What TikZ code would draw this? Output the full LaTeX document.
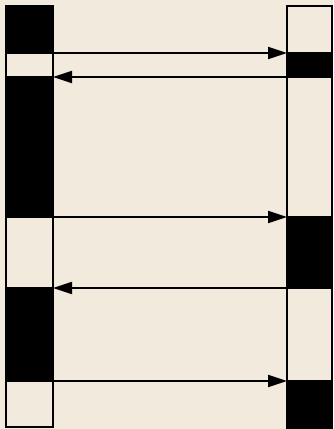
\documentclass[tikz,border=0pt]{standalone}
\usetikzlibrary{arrows.meta}
\definecolor{paper}{RGB}{242,234,220}
\tikzset{
  seg/.style={draw=black, line width=2pt, inner sep=0pt, outer sep=0pt, anchor=north west},
  idle/.style={seg, fill=paper},
  busy/.style={seg, fill=black},
  lcol/.style={minimum width=47pt},
  rcol/.style={minimum width=45pt},
  msg/.style={line width=2pt, -{Triangle[length=19pt,width=12pt]}}
}
\begin{document}
\begin{tikzpicture}[x=1pt,y=-1pt]
  \useasboundingbox[fill=paper] (0,0) rectangle (333,429);
  % left lifeline, top to bottom
  \node[busy, lcol, minimum height=47pt]  (LA) at (6,6)   {};
  \node[idle, lcol, minimum height=24pt]  (LB) at (6,53)  {};
  \node[busy, lcol, minimum height=140pt] (LC) at (6,77)  {};
  \node[idle, lcol, minimum height=71pt]  (LD) at (6,217) {};
  \node[busy, lcol, minimum height=93pt]  (LE) at (6,288) {};
  \node[idle, lcol, minimum height=46pt]  (LF) at (6,381) {};
  % right lifeline, top to bottom
  \node[idle, rcol, minimum height=47pt]  (RA) at (287,6)   {};
  \node[busy, rcol, minimum height=24pt]  (RB) at (287,53)  {};
  \node[idle, rcol, minimum height=140pt] (RC) at (287,77)  {};
  \node[busy, rcol, minimum height=71pt]  (RD) at (287,217) {};
  \node[idle, rcol, minimum height=93pt]  (RE) at (287,288) {};
  \node[busy, rcol, minimum height=60pt]  (RF) at (287,381) {};
  % messages
  \draw[msg] (LA.south east) -- (RB.north west);
  \draw[msg] (RB.south west) -- (LB.south east);
  \draw[msg] (LC.south east) -- (RD.north west);
  \draw[msg] (RD.south west) -- (LD.south east);
  \draw[msg] (LE.south east) -- (RF.north west);
\end{tikzpicture}
\end{document}
